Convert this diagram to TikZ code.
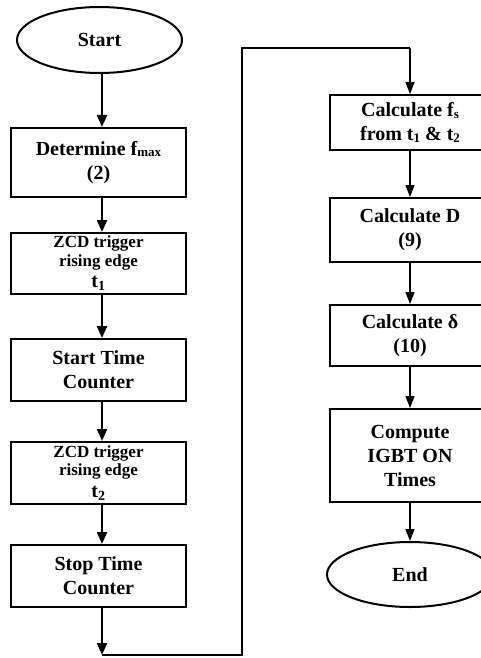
\documentclass[tikz,border=0pt]{standalone}
\usepackage{fontspec}
\setmainfont{Liberation Serif}
\usetikzlibrary{shapes.geometric,arrows.meta,calc}
\newcommand{\mysub}[1]{\raisebox{-1.5pt}{\fontsize{13}{13}\selectfont #1}}
\begin{document}
\begin{tikzpicture}[x=1pt,y=-1pt,
  box/.style={draw,line width=2pt,rectangle,inner sep=0pt,align=center,
    font=\fontsize{20}{24}\selectfont\bfseries},
  term/.style={draw,line width=2pt,ellipse,inner sep=0pt,align=center,
    font=\fontsize{20}{24}\selectfont\bfseries},
  lbox/.style={box,minimum width=175pt},
  rbox/.style={box,minimum width=160pt},
  zcd/.style={lbox,font=\fontsize{17}{18.5}\selectfont\bfseries},
  thick arrow/.style={line width=2.3pt,-{Triangle[length=12pt,width=10pt]}},
  thin arrow/.style={line width=1.3pt,-{Triangle[length=12pt,width=9pt]}},
  loop line/.style={line width=1.6pt,line join=miter}
]
\useasboundingbox (0,0) rectangle (481,658);
\clip (0,0) rectangle (481,658);
\fill[white] (0,0) rectangle (481,658);

% left column
\node[term,minimum width=165pt,minimum height=66pt] (start) at (99.5,40) {Start};
\node[lbox,minimum height=69pt] (det) at (98.5,162.5) {Determine f\mysub{max}\\(2)};
\node[zcd,minimum height=61pt] (zcd1) at (98.5,263.5) {ZCD trigger\\rising edge\\[3pt]{\fontsize{20}{20}\selectfont t\textsubscript{1}}};
\node[lbox,minimum height=62pt] (stc) at (98.5,370) {Start Time\\Counter};
\node[zcd,minimum height=62pt] (zcd2) at (98.5,473) {ZCD trigger\\rising edge\\[3pt]{\fontsize{20}{20}\selectfont t\textsubscript{2}}};
\node[lbox,minimum height=62pt] (stop) at (98.5,576) {Stop Time\\Counter};

% right column
\node[rbox,minimum height=55pt] (fs) at (410,122.5) {Calculate f\mysub{s}\\from t\mysub{1} \& t\mysub{2}};
\node[rbox,minimum height=64pt] (calcD) at (410,230) {Calculate D\\(9)};
\node[rbox,minimum height=61pt] (delta) at (410,335.5) {Calculate δ\\(10)};
\node[rbox,minimum height=93pt] (igbt) at (410,455.5) {Compute\\IGBT ON\\Times};
\node[term,minimum width=166pt,minimum height=65pt] (end) at (410,574.5) {End};

% loop coordinates
\coordinate (c1) at (102,655);
\coordinate (c2) at (242,655);
\coordinate (c3) at (242,48);
\coordinate (c4) at (410,48);

% left arrows
\draw[thick arrow] ([xshift=2.5pt]start.south) -- ([xshift=3.5pt]det.north);
\draw[thick arrow] ([xshift=3.5pt]det.south) -- ([xshift=3.5pt]zcd1.north);
\draw[thick arrow] ([xshift=3.5pt]zcd1.south) -- ([xshift=3.5pt]stc.north);
\draw[thick arrow] ([xshift=3.5pt]stc.south) -- ([xshift=3.5pt]zcd2.north);
\draw[thick arrow] ([xshift=3.5pt]zcd2.south) -- ([xshift=3.5pt]stop.north);
\draw[thick arrow] ([xshift=3.5pt]stop.south) -- (c1);

% loop
\draw[loop line] (c1) -- (c2) -- (c3) -- (c4);
\draw[thin arrow] (c4) -- (fs.north);

% right arrows
\draw[thin arrow] (fs) -- (calcD);
\draw[thin arrow] (calcD) -- (delta);
\draw[thin arrow] (delta) -- (igbt);
\draw[thin arrow] (igbt) -- (end);
\end{tikzpicture}
\end{document}
